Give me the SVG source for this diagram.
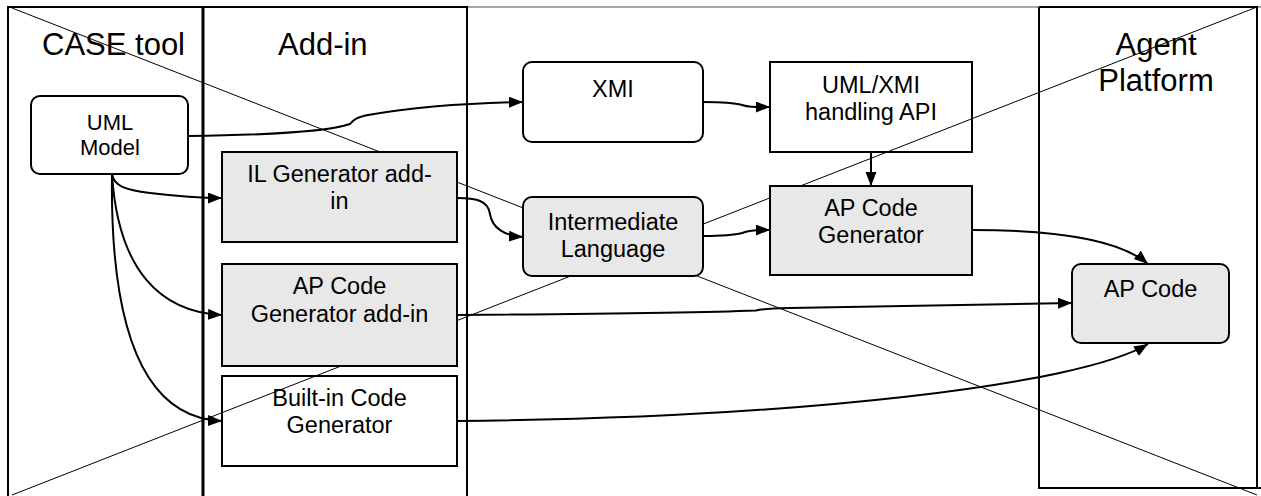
<svg xmlns="http://www.w3.org/2000/svg" width="1261" height="496" viewBox="0 0 1261 496">
<defs>
<marker id="arr" markerUnits="userSpaceOnUse" markerWidth="15" markerHeight="12" refX="14" refY="5.5" orient="auto">
<path d="M0,0 L14,5.5 L0,11 z" fill="#000"/>
</marker>
<style>
.lane{stroke:#000;stroke-width:2;fill:none}
.diag{stroke:#000;stroke-width:1;fill:none}
.box{stroke:#000;stroke-width:2}
.gray{fill:#e8e8e8}
.white{fill:none}
.t{font-family:"Liberation Sans",Arial,sans-serif;font-size:23.5px;fill:#000;text-anchor:middle}
.lt{font-family:"Liberation Sans",Arial,sans-serif;font-size:31px;fill:#000}
.c{stroke:#000;stroke-width:2;fill:none;marker-end:url(#arr)}
</style>
</defs>
<rect width="1261" height="496" fill="#fff"/>
<g id="lanes">
<line x1="467" y1="7" x2="1261" y2="7" stroke="#888" stroke-width="1.5"/>
<path class="lane" d="M8,496 L8,7 L467,7 L467,496"/>
<line x1="203" y1="7" x2="203" y2="496" stroke="#000" stroke-width="3"/>
<path class="lane" d="M1039,7 L1257,7 L1257,488 M1039,7 L1039,488 L1261,488"/>
<text class="lt" x="42" y="55">CASE tool</text>
<text class="lt" x="278" y="55">Add-in</text>
<text class="lt" x="1156" y="55" text-anchor="middle">Agent</text>
<text class="lt" x="1156" y="91" text-anchor="middle">Platform</text>
</g>
<g id="cross">
<line class="diag" x1="12" y1="8" x2="1257" y2="495"/>
<line class="diag" x1="12" y1="495" x2="1257" y2="7"/>
</g>
<g id="uml-model">
<rect class="box white" x="31" y="96" width="157" height="78" rx="9"/>
<text class="t" x="110" y="130" style="font-size:22px">UML</text>
<text class="t" x="110" y="155" style="font-size:22px">Model</text>
</g>
<g id="xmi">
<rect class="box white" x="523" y="62" width="180" height="80" rx="9"/>
<text class="t" x="613" y="97">XMI</text>
</g>
<g id="uml-xmi-api">
<rect class="box white" x="770" y="62" width="202" height="90"/>
<text class="t" x="871" y="93">UML/XMI</text>
<text class="t" x="871" y="120">handling API</text>
</g>
<g id="il-generator">
<rect class="box gray" x="222" y="152" width="235" height="90"/>
<text class="t" x="339.5" y="182">IL Generator add-</text>
<text class="t" x="339.5" y="209">in</text>
</g>
<g id="intermediate-language">
<rect class="box gray" x="523" y="197" width="180" height="79" rx="9"/>
<text class="t" x="613" y="230">Intermediate</text>
<text class="t" x="613" y="257">Language</text>
</g>
<g id="ap-code-generator">
<rect class="box gray" x="770" y="186" width="202" height="89"/>
<text class="t" x="871" y="216">AP Code</text>
<text class="t" x="871" y="243">Generator</text>
</g>
<g id="ap-code-generator-addin">
<rect class="box gray" x="222" y="264" width="235" height="102"/>
<text class="t" x="339.5" y="294">AP Code</text>
<text class="t" x="339.5" y="322">Generator add-in</text>
</g>
<g id="builtin-code-generator">
<rect class="box white" x="222" y="376" width="235" height="90"/>
<text class="t" x="339.5" y="406">Built-in Code</text>
<text class="t" x="339.5" y="433">Generator</text>
</g>
<g id="ap-code">
<rect class="box gray" x="1072" y="264" width="157" height="79" rx="9"/>
<text class="t" x="1150.5" y="297">AP Code</text>
</g>
<g id="connectors">
<path class="c" d="M188,136 C270,135 330,131 350,124 C354,119 358,117 368,115 C420,106 470,103 523,102"/>
<path class="c" d="M112,174 C114,186 125,190 150,193 C175,196 200,198 222,198"/>
<path class="c" d="M112,174 C118,270 160,312 222,315"/>
<path class="c" d="M112,174 C110,320 140,418 222,421"/>
<path class="c" d="M457,198 C475,198 488,200 490,214 C492,228 505,236 523,237"/>
<path class="c" d="M703,102 C725,102 735,103 742,105 C748,107 752,107 770,107"/>
<path class="c" d="M703,236 C725,236 735,235 742,233 C748,231 752,230 770,230"/>
<path class="c" d="M871,152 L871,186"/>
<path class="c" d="M972,230 C1060,230 1120,240 1148,264"/>
<path class="c" d="M457,315 C600,314 720,312 756,310.5 C762,309 766,308.5 790,308 C900,306 1000,304 1072,303"/>
<path class="c" d="M457,421 C800,418 1080,385 1148,344"/>
</g>
</svg>
